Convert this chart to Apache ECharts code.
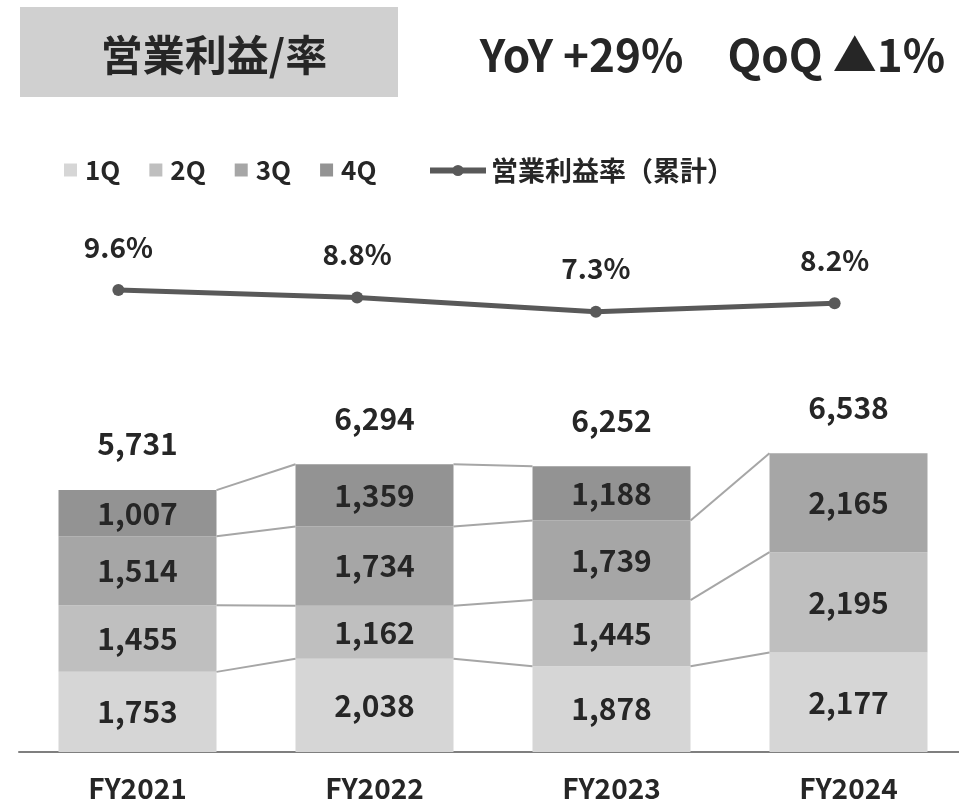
<!DOCTYPE html>
<html>
<head>
<meta charset="utf-8">
<script src="https://cdn.jsdelivr.net/npm/echarts@6/dist/echarts.min.js"></script>
<style>
html,body{margin:0;padding:0;background:#fff;}
#main{width:959px;height:801px;}
</style>
</head>
<body>
<div id="main"></div>
<script>
// ---- data ----
const categories = ['FY2021', 'FY2022', 'FY2023', 'FY2024'];
const q1 = [1753, 2038, 1878, 2177];
const q2 = [1455, 1162, 1445, 2195];
const q3 = [1514, 1734, 1739, 2165];
const q4 = [1007, 1359, 1188, null];
const totals = [5731, 6294, 6252, 6538];
const marginRate = [9.6, 8.8, 7.3, 8.2];
const quarterNames = ['1Q', '2Q', '3Q', '4Q'];
const rateName = '営業利益率（累計）';
const titleText = '営業利益/率';
const growthText = 'YoY +29%　QoQ ▲1%';

// ---- styles ----
const FONT = '"Noto Sans CJK JP", "Noto Sans", sans-serif';
const TEXT = '#262626';
const qColors = ['#d6d6d6', '#bfbfbf', '#a6a6a6', '#939393'];
const BAR_W = 158;

const quarters = [q1, q2, q3, q4];
function cumul(i) {
  let s = 0;
  return quarters.map(q => {
    if (q[i] == null) return null;
    s += q[i];
    return s;
  });
}
const fmt = v => (v == null ? '' : Number(v).toLocaleString('en-US'));

const chart = echarts.init(document.getElementById('main'), null, {renderer: 'canvas'});

const barSeries = quarters.map((q, k) => ({
  name: quarterNames[k],
  type: 'bar',
  stack: 'q',
  xAxisIndex: 0,
  yAxisIndex: 0,
  barWidth: BAR_W,
  barGap: '-100%',
  data: q,
  itemStyle: {color: qColors[k]},
  label: {
    show: true,
    position: 'inside',
    formatter: p => fmt(p.value),
    fontFamily: FONT,
    fontSize: 30,
    fontWeight: 'bold',
    color: TEXT
  },
  z: 2
}));

const option = {
  animation: false,
  backgroundColor: '#ffffff',
  textStyle: {fontFamily: FONT},
  graphic: [
    {type: 'rect', left: 20, top: 7, shape: {width: 378, height: 90}, style: {fill: '#d0d0d0'}, z: 0}
  ],
  title: [
    {text: titleText, left: 209, top: 50, textAlign: 'center', textVerticalAlign: 'middle',
     textStyle: {fontFamily: FONT, fontSize: 42, fontWeight: 'bold', color: TEXT}},
    {text: growthText, right: 9, top: 50, textVerticalAlign: 'middle',
     textStyle: {fontFamily: FONT, fontSize: 44, fontWeight: 'bold', color: TEXT}}
  ],
  legend: [
    {
      data: quarterNames,
      left: 59, top: 152,
      icon: 'rect',
      itemWidth: 13, itemHeight: 13,
      itemGap: 29,
      textStyle: {fontFamily: FONT, fontSize: 26, fontWeight: 'bold', color: TEXT, padding: [0, 0, 0, 3]}
    },
    {
      data: [rateName],
      left: 422, top: 152,
      itemWidth: 56, itemHeight: 14,
      lineStyle: {width: 6},
      textStyle: {fontFamily: FONT, fontSize: 27, fontWeight: 'bold', color: TEXT}
    }
  ],
  grid: [
    {left: 19, width: 948, top: 432, bottom: 49, outerBoundsMode: 'none', containLabel: false},
    {left: -1, width: 955, top: 286.3, height: 94.3, outerBoundsMode: 'none', containLabel: false}
  ],
  xAxis: [
    {
      type: 'category', gridIndex: 0, data: categories,
      axisLine: {show: true, lineStyle: {color: '#7f7f7f', width: 2}},
      axisTick: {show: false},
      axisLabel: {margin: 22, fontFamily: FONT, fontSize: 28, fontWeight: 'bold', color: TEXT}
    },
    {
      type: 'category', gridIndex: 1, data: categories,
      show: false
    }
  ],
  yAxis: [
    {type: 'value', gridIndex: 0, min: 0, max: 7000, show: false, splitLine: {show: false}},
    {type: 'value', gridIndex: 1, min: 0, max: 10, show: false, splitLine: {show: false}}
  ],
  series: [
    {
      name: 'total',
      type: 'bar',
      xAxisIndex: 0, yAxisIndex: 0,
      barWidth: BAR_W,
      barGap: '-100%',
      data: totals,
      itemStyle: {color: 'rgba(0,0,0,0)'},
      label: {
        show: true, position: 'top', distance: 31,
        formatter: p => fmt(p.value),
        fontFamily: FONT, fontSize: 30, fontWeight: 'bold', color: TEXT
      },
      z: 1,
      silent: true
    },
    ...barSeries,
    {
      name: 'connectors',
      type: 'custom',
      xAxisIndex: 0, yAxisIndex: 0,
      data: categories.slice(0, -1).map((c, i) => [i, 0]),
      renderItem: function (params, api) {
        const i = api.value(0);
        const a = cumul(i), b = cumul(i + 1);
        const children = [];
        for (let k = 0; k < quarters.length; k++) {
          if (a[k] == null || b[k] == null) continue;
          const p1 = api.coord([i, a[k]]);
          const p2 = api.coord([i + 1, b[k]]);
          children.push({
            type: 'line',
            shape: {x1: p1[0] + BAR_W / 2, y1: p1[1], x2: p2[0] - BAR_W / 2, y2: p2[1]},
            style: {stroke: '#a6a6a6', lineWidth: 2}
          });
        }
        return {type: 'group', children: children};
      },
      z: 3,
      silent: true
    },
    {
      name: rateName,
      type: 'line',
      xAxisIndex: 1, yAxisIndex: 1,
      data: marginRate,
      symbol: 'circle',
      symbolSize: 12,
      lineStyle: {color: '#595959', width: 5},
      itemStyle: {color: '#595959'},
      label: {
        show: true, position: 'top', distance: 23,
        formatter: p => p.value.toFixed(1) + '%',
        fontFamily: FONT, fontSize: 28, fontWeight: 'bold', color: TEXT
      },
      z: 5
    }
  ]
};
chart.setOption(option);
</script>
</body>
</html>
